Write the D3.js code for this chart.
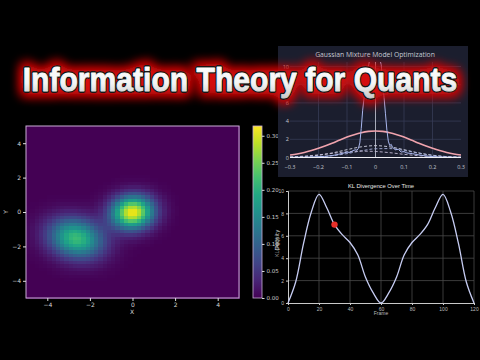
<!DOCTYPE html>
<html>
<head>
<meta charset="utf-8">
<script src="https://cdn.jsdelivr.net/npm/d3@7"></script>
<style>
  html, body { margin: 0; padding: 0; background: #000; }
  svg { display: block; }
</style>
</head>
<body>
<div id="chart"></div>
<script>
// ---------------- data ----------------
// heatmap : two gaussian blobs (mean, sigma, correlation, weight)
const heatMeans = [[0, 0], [-2.65, -1.5]];
const heatSigmas = [[0.68, 0.66], [0.88, 0.8]];
const heatRho = [0.05, -0.15];
const heatWeights = [0.88, 0.95];
const heatTicks = [-4, -2, 0, 2, 4];
const heatCells = 50;
const cbarTicks = [0, 0.05, 0.10, 0.15, 0.20, 0.25, 0.30];
const cbarMax = 0.318;

// GMM panel
const gmmX = [-0.3,-0.27,-0.24,-0.21,-0.18,-0.15,-0.13,-0.11,-0.1,-0.09,-0.08,-0.07,-0.065,-0.06,-0.055,-0.05,-0.045,-0.04,-0.035,-0.03,-0.02,-0.01,0,0.01,0.02,0.025,0.03,0.035,0.04,0.045,0.05,0.055,0.06,0.07,0.08,0.09,0.1,0.11,0.13,0.15,0.17,0.19,0.22,0.25,0.28,0.3];
const gmmEmpirical = [0.03,0.04,0.05,0.08,0.12,0.22,0.35,0.5,0.6,0.55,0.75,0.85,0.8,1.0,1.6,3.2,5.2,6.6,8.0,9.2,10.8,11.5,11.8,11.4,10.2,8.4,6.6,4.8,3.0,1.8,1.3,1.45,1.1,0.85,0.9,0.6,0.65,0.5,0.42,0.3,0.2,0.12,0.06,0.04,0.03,0.02];
const fitX = [-0.3,-0.275,-0.25,-0.225,-0.2,-0.175,-0.15,-0.125,-0.1,-0.075,-0.05,-0.025,0,0.025,0.05,0.075,0.1,0.125,0.15,0.175,0.2,0.225,0.25,0.275,0.3];
const fitMixture = [0.27,0.39,0.55,0.76,1.01,1.29,1.60,1.93,2.24,2.51,2.73,2.87,2.92,2.87,2.73,2.51,2.24,1.93,1.60,1.29,1.01,0.76,0.55,0.39,0.27];
const compX = [-0.3,-0.25,-0.2,-0.15,-0.1,-0.05,0,0.05,0.1,0.15,0.2,0.25,0.3];
const compA = [0.03,0.10,0.25,0.51,0.86,1.17,1.30,1.17,0.86,0.51,0.25,0.10,0.03];
const compB = [0.004,0.02,0.07,0.20,0.43,0.73,0.96,0.98,0.78,0.49,0.24,0.09,0.03];
const compC = [0.07,0.15,0.29,0.46,0.62,0.70,0.66,0.53,0.35,0.20,0.10,0.04,0.01];
const gmmXTicks = [-0.3, -0.2, -0.1, 0, 0.1, 0.2, 0.3];
const gmmYTicks = [0, 2, 4, 6, 8, 10];

// KL panel
const klFrames = [0,5,10,15,20,25,30,35,40,45,50,55,60,65,70,75,80,85,90,95,100,105,110,115,120];
const klValues = [0,1.9,5.3,8.1,9.7,8.5,7.0,6.1,5.4,4.3,2.3,0.9,0,0.9,2.3,4.3,5.4,6.1,7.0,8.5,9.7,8.1,5.3,1.9,0];
const klMarker = { frame: 30, value: 7.0 };
const klXTicks = [0, 20, 40, 60, 80, 100, 120];
const klYTicks = [0, 2, 4, 6, 8, 10];

const titleText = "Information Theory for Quants";

// ---------------- svg ----------------
var svg = d3.select("#chart")
  .append("svg")
  .attr("width", 480)
  .attr("height", 360)
  .style("background", "#000");

const defs = svg.append("defs");
const fmt = d => (d < 0 ? "\u2212" : "") + Math.abs(d);

//HEATMAP-----------------------------------------------
var xH = d3.scaleLinear().domain([-5, 5]).range([26, 239]);
var yH = d3.scaleLinear().domain([-5, 5]).range([298, 126]);
var color = d3.scaleSequential(d3.interpolateViridis).domain([0, cbarMax]);

let density = (px, py) => {
  let s = 0;
  heatMeans.forEach((m, k) => {
    const sx = heatSigmas[k][0], sy = heatSigmas[k][1], r = heatRho[k];
    const dx = (px - m[0]) / sx, dy = (py - m[1]) / sy;
    const q = (dx * dx - 2 * r * dx * dy + dy * dy) / (1 - r * r);
    s += heatWeights[k] / (2 * Math.PI * sx * sy * Math.sqrt(1 - r * r)) * Math.exp(-q / 2);
  });
  return s;
};

const step = 10 / heatCells;
let cells = [];
for (let i = 0; i < heatCells; i++) {
  for (let j = 0; j < heatCells; j++) {
    const cx = -5 + step / 2 + i * step, cy = -5 + step / 2 + j * step;
    cells.push({ x0: cx - step / 2, y1: cy + step / 2, v: density(cx, cy) });
  }
}

svg.append("g")
  .attr("shape-rendering", "crispEdges")
  .selectAll("rect")
  .data(cells)
  .enter()
  .append("rect")
    .attr("x", d => xH(d.x0))
    .attr("y", d => yH(d.y1))
    .attr("width", xH(step) - xH(0) + 0.6)
    .attr("height", yH(0) - yH(step) + 0.6)
    .attr("fill", d => color(Math.min(d.v, cbarMax)));

svg.append("rect")
  .attr("x", 26).attr("y", 126).attr("width", 213).attr("height", 172)
  .attr("fill", "none").attr("stroke", "#c9aed6").attr("stroke-width", 1);

let axH = svg.append("g")
  .attr("transform", "translate(0,298)")
  .call(d3.axisBottom(xH).tickValues(heatTicks).tickFormat(fmt).tickSize(3).tickPadding(2));
let ayH = svg.append("g")
  .attr("transform", "translate(26,0)")
  .call(d3.axisLeft(yH).tickValues(heatTicks).tickFormat(fmt).tickSize(3).tickPadding(2));
[axH, ayH].forEach(g => {
  g.select(".domain").remove();
  g.selectAll("line").attr("stroke", "#ddd");
  g.selectAll("text").attr("fill", "#d8d8d8").style("font", "6px 'DejaVu Sans'");
});

svg.append("text").attr("x", 132).attr("y", 314).attr("text-anchor", "middle")
  .attr("fill", "#d8d8d8").style("font", "6px 'DejaVu Sans'").text("X");
svg.append("text").attr("transform", "translate(8,212) rotate(-90)").attr("text-anchor", "middle")
  .attr("fill", "#d8d8d8").style("font", "6px 'DejaVu Sans'").text("Y");

// colorbar
const grad = defs.append("linearGradient").attr("id", "viridis")
  .attr("x1", "0").attr("y1", "1").attr("x2", "0").attr("y2", "0");
d3.range(0, 1.001, 0.1).forEach(t => {
  grad.append("stop").attr("offset", t).attr("stop-color", d3.interpolateViridis(t));
});
var yC = d3.scaleLinear().domain([0, cbarMax]).range([298, 126]);
svg.append("rect")
  .attr("x", 253).attr("y", 126).attr("width", 9).attr("height", 172)
  .attr("fill", "url(#viridis)").attr("stroke", "#c9aed6").attr("stroke-width", 0.8);
let ac = svg.append("g")
  .attr("transform", "translate(262,0)")
  .call(d3.axisRight(yC).tickValues(cbarTicks).tickFormat(d3.format(".2f")).tickSize(2.5).tickPadding(2));
ac.select(".domain").remove();
ac.selectAll("line").attr("stroke", "#ddd");
ac.selectAll("text").attr("fill", "#d0d0d0").style("font", "5.5px 'DejaVu Sans'");
svg.append("text").attr("transform", "translate(279,240) rotate(-90)").attr("text-anchor", "middle")
  .attr("fill", "#d0d0d0").style("font", "5.5px 'DejaVu Sans'").text("Density");

//KL DIVERGENCE------------------------------------------
var xK = d3.scaleLinear().domain([0, 120]).range([288, 474]);
var yK = d3.scaleLinear().domain([0, 10]).range([303, 191]);

let gk = svg.append("g");
gk.selectAll(".vg").data(klXTicks.slice(1)).enter().append("line")
  .attr("x1", d => xK(d)).attr("x2", d => xK(d)).attr("y1", yK(0)).attr("y2", yK(10))
  .attr("stroke", "#4a4a4a").attr("stroke-width", 0.8);
gk.selectAll(".hg").data(klYTicks.slice(1)).enter().append("line")
  .attr("x1", xK(0)).attr("x2", xK(120)).attr("y1", d => yK(d)).attr("y2", d => yK(d))
  .attr("stroke", "#4a4a4a").attr("stroke-width", 0.8);

let axK = gk.append("g").attr("transform", "translate(0," + yK(0) + ")")
  .call(d3.axisBottom(xK).tickValues(klXTicks).tickSize(2).tickPadding(2));
let ayK = gk.append("g").attr("transform", "translate(" + xK(0) + ",0)")
  .call(d3.axisLeft(yK).tickValues(klYTicks).tickSize(2).tickPadding(2));
[axK, ayK].forEach(g => {
  g.select(".domain").attr("stroke", "#e0e0e0").attr("stroke-width", 0.9);
  g.selectAll("line").attr("stroke", "#ccc");
  g.selectAll("text").attr("fill", "#bbb").style("font", "5px 'Liberation Sans'");
});

gk.append("path")
  .datum(klFrames.map((f, i) => [f, klValues[i]]))
  .attr("d", d3.line().x(d => xK(d[0])).y(d => yK(d[1])).curve(d3.curveCatmullRom))
  .attr("fill", "none").attr("stroke", "#c6ccf2").attr("stroke-width", 1.3);

gk.append("circle")
  .attr("cx", xK(klMarker.frame)).attr("cy", yK(klMarker.value)).attr("r", 3.2)
  .attr("fill", "#e8302a");

gk.append("text").attr("x", 381).attr("y", 188).attr("text-anchor", "middle")
  .attr("fill", "#e8e8e8").style("font", "5.8px 'Liberation Sans'").text("KL Divergence Over Time");
gk.append("text").attr("x", 381).attr("y", 315).attr("text-anchor", "middle")
  .attr("fill", "#bbb").style("font", "5px 'Liberation Sans'").text("Frame");
gk.append("text").attr("transform", "translate(279,247) rotate(-90)").attr("text-anchor", "middle")
  .attr("fill", "#bbb").style("font", "5px 'Liberation Sans'").text("KL(P||Q)");

//GMM PANEL--------------------------------------------
var xG = d3.scaleLinear().domain([-0.3, 0.3]).range([290, 461]);
var yG = d3.scaleLinear().domain([0, 10]).range([157.5, 66.5]);

let gg = svg.append("g");
gg.append("rect").attr("x", 278).attr("y", 46).attr("width", 190).attr("height", 131)
  .attr("fill", "#1b1e2e");
defs.append("clipPath").attr("id", "gmmclip").append("rect")
  .attr("x", 290).attr("y", 62).attr("width", 171).attr("height", 96.5);

gg.selectAll(".hg").data(gmmYTicks.slice(1)).enter().append("line")
  .attr("x1", xG(-0.3)).attr("x2", xG(0.3)).attr("y1", d => yG(d)).attr("y2", d => yG(d))
  .attr("stroke", "#363b55").attr("stroke-width", 0.8);
gg.selectAll(".vg").data(gmmXTicks.filter(d => d !== 0 && Math.abs(d) < 0.3)).enter().append("line")
  .attr("x1", d => xG(d)).attr("x2", d => xG(d)).attr("y1", yG(0)).attr("y2", 62)
  .attr("stroke", "#363b55").attr("stroke-width", 0.8);
gg.append("line").attr("x1", xG(0)).attr("x2", xG(0)).attr("y1", yG(0)).attr("y2", 62)
  .attr("stroke", "#b8bccb").attr("stroke-width", 0.9);

let plotG = gg.append("g").attr("clip-path", "url(#gmmclip)");
let lineG = d3.line().x(d => xG(d[0])).y(d => yG(d[1]));

[[compA, "#d6d8e6"], [compB, "#a9b3dc"], [compC, "#c4bcd6"]].forEach(c => {
  plotG.append("path")
    .datum(compX.map((x, i) => [x, c[0][i]]))
    .attr("d", lineG.curve(d3.curveMonotoneX))
    .attr("fill", "none").attr("stroke", c[1]).attr("stroke-width", 0.9)
    .attr("stroke-dasharray", "3,2");
});
plotG.append("path")
  .datum(fitX.map((x, i) => [x, fitMixture[i]]))
  .attr("d", lineG.curve(d3.curveMonotoneX))
  .attr("fill", "none").attr("stroke", "#f0a3ad").attr("stroke-width", 1.6);
plotG.append("path")
  .datum(gmmX.map((x, i) => [x, gmmEmpirical[i]]))
  .attr("d", lineG.curve(d3.curveLinear))
  .attr("fill", "none").attr("stroke", "#a9b7ee").attr("stroke-width", 1);

gg.append("line").attr("x1", xG(-0.3)).attr("x2", xG(0.3)).attr("y1", yG(0)).attr("y2", yG(0))
  .attr("stroke", "#f2f2f6").attr("stroke-width", 1);

gg.selectAll(".xt").data(gmmXTicks).enter().append("text")
  .attr("x", d => xG(d)).attr("y", 169).attr("text-anchor", "middle")
  .attr("fill", "#c4c6d0").style("font", "5.5px 'Open Sans'").text(fmt);
gg.selectAll(".yt").data(gmmYTicks).enter().append("text")
  .attr("x", 289).attr("y", d => yG(d) + 2).attr("text-anchor", "end")
  .attr("fill", "#c4c6d0").style("font", "5.5px 'Open Sans'").text(d => d);
gg.append("text").attr("x", 375).attr("y", 57).attr("text-anchor", "middle")
  .attr("fill", "#c8cad4").style("font", "6.8px 'Open Sans'").text("Gaussian Mixture Model Optimization");

//TITLE--------------------------------------------------
const glow = defs.append("filter").attr("id", "glow")
  .attr("x", "-10%").attr("y", "-70%").attr("width", "120%").attr("height", "240%");
glow.append("feMorphology").attr("in", "SourceAlpha").attr("operator", "dilate").attr("radius", 2).attr("result", "fat");
glow.append("feGaussianBlur").attr("in", "fat").attr("stdDeviation", 6).attr("result", "blur");
glow.append("feFlood").attr("flood-color", "#d60c0c").attr("result", "red");
glow.append("feComposite").attr("in", "red").attr("in2", "blur").attr("operator", "in").attr("result", "halo");
const merge = glow.append("feMerge");
merge.append("feMergeNode").attr("in", "halo");
merge.append("feMergeNode").attr("in", "halo");
merge.append("feMergeNode").attr("in", "SourceGraphic");

const tg = defs.append("linearGradient").attr("id", "titlefill")
  .attr("x1", "0").attr("y1", "0").attr("x2", "0").attr("y2", "1");
tg.append("stop").attr("offset", 0).attr("stop-color", "#ffffff");
tg.append("stop").attr("offset", 0.6).attr("stop-color", "#f4f4f4");
tg.append("stop").attr("offset", 1).attr("stop-color", "#c8c8c8");

// the title is squeezed horizontally so it spans x 22..457
let titleG = svg.append("g").attr("transform", "translate(240,91) scale(0.912,1)");
// dark outline + red glow underneath, then a heavier white face on top
titleG.append("text")
  .attr("x", 0).attr("y", 0).attr("text-anchor", "middle")
  .attr("fill", "#151515")
  .attr("stroke", "#151515").attr("stroke-width", 4).attr("stroke-linejoin", "round")
  .attr("filter", "url(#glow)")
  .style("font", "bold 33px 'Liberation Sans'")
  .text(titleText);
titleG.append("text")
  .attr("x", 0).attr("y", 0).attr("text-anchor", "middle")
  .attr("fill", "url(#titlefill)")
  .attr("stroke", "url(#titlefill)").attr("stroke-width", 0.9).attr("stroke-linejoin", "round")
  .style("font", "bold 33px 'Liberation Sans'")
  .text(titleText);
</script>
</body>
</html>
